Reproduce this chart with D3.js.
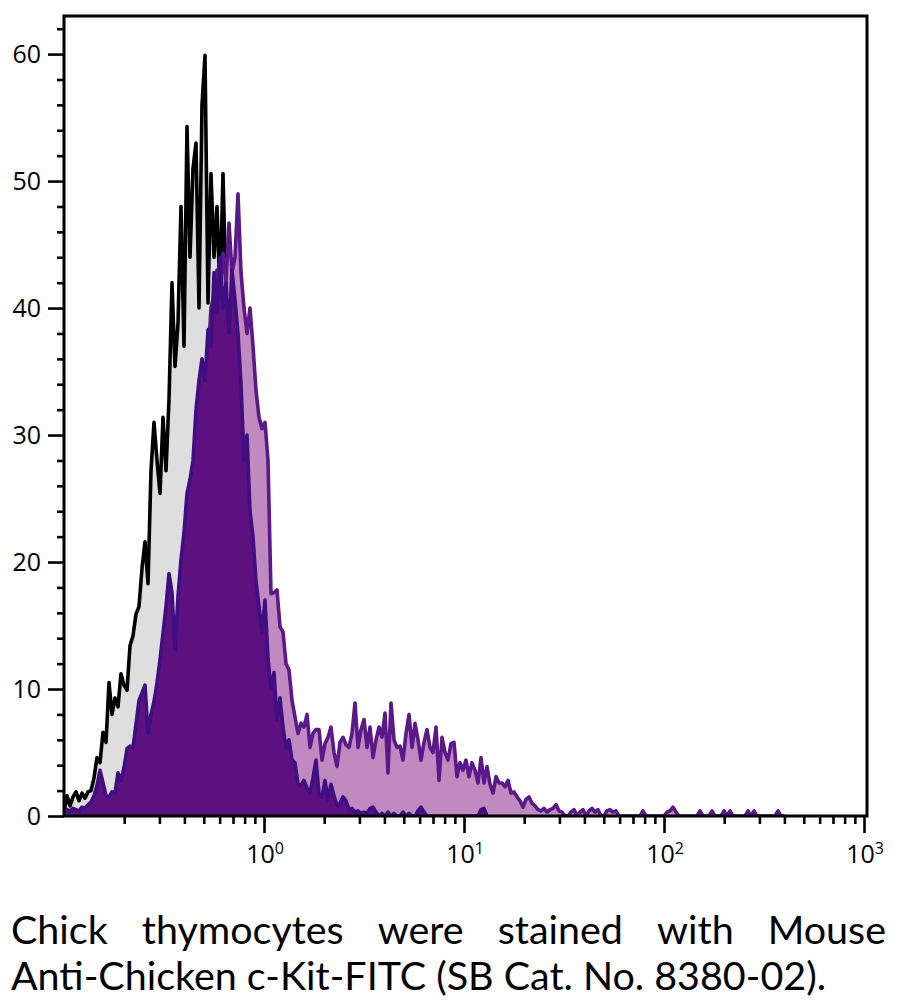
<!DOCTYPE html>
<html><head><meta charset="utf-8">
<script src="https://cdn.jsdelivr.net/npm/d3@7"></script>
<style>html,body{margin:0;padding:0;background:#fff;} svg{display:block;}</style>
</head><body>
<svg id="chart" width="900" height="1006"></svg>
<script>
// ---- data (histogram counts per log channel) ----
const firstChannel = 0.1;            // fluorescence value of channel 0
const channelStepDecades = 0.015;    // width of each channel in decades

// isotype control (grey fill, black outline)
const isotype = [
 0.3,1.6,0.8,1.5,1.9,1.2,1.8,1.4,1.9,2.0,
 3.0,4.6,4.2,6.6,5.8,10.5,8.0,9.3,8.6,11.2,
 10.3,9.9,13.4,14.2,15.9,16.5,19.5,21.6,18.3,27.2,
 31.0,28.0,25.4,31.4,27.2,32.8,42.0,35.4,38.8,48.0,
 37.0,54.3,44.0,51.0,53.0,40.0,56.0,59.9,40.4,50.6,
 44.0,48.0,41.0,50.6,41.0,35.0,31.0,26.0,21.0,17.0,
 13.0,10.0,7.5,5.5,4.0,2.8,1.8,1.0,0.5,0.2,0
];

// dark purple sample
const darkSample = [
 0.3,0.5,0.4,0.6,0.5,0.4,0.7,0.6,0.9,1.1,
 1.6,2.4,3.6,2.6,1.6,1.5,1.9,1.8,3.4,2.8,
 3.8,5.3,5.5,5.4,7.2,9.1,9.7,10.3,6.5,8.0,
 9.0,10.5,12.3,14.4,16.5,19.1,17.6,13.1,17.3,20.2,
 22.3,25.4,26.5,28.0,32.0,34.3,36.0,34.3,38.3,37.0,
 42.8,39.6,44.0,40.0,42.0,38.0,43.0,40.6,38.0,34.0,
 28.0,30.0,24.0,22.0,18.5,16.5,14.4,17.0,12.4,10.0,
 11.3,7.6,9.3,7.0,5.4,6.0,4.4,4.2,2.5,2.4,
 2.8,2.2,1.8,3.0,4.4,1.8,1.5,2.8,1.3,2.5,
 1.6,0.8,1.0,1.5,1.2,0.5,0.6,0.3,0.4,0.2,
 0.3,0.2,0.6,0.7,0.3,0,0.2,0,0.3,0,
 0.2,0,0,0.3,0,0.2,0,0,0.4,0.7,
 0.3,0,0,0,0,0,0,0,0,0,
 0,0,0,0,0,0,0,0,0,0.5,0.6,0
];

// c-Kit-FITC stained sample (light purple fill)
const lightSample = [
 0.2,0.3,0.2,0.4,0.3,0.3,0.5,0.4,0.6,0.8,
 1.2,1.5,2.0,1.8,1.2,1.3,1.5,1.6,2.4,2.3,
 3.0,4.0,4.3,4.6,5.8,6.9,7.5,8.0,6.0,7.0,
 8.0,9.2,10.5,12.0,13.5,15.0,15.5,12.5,15.5,18.0,
 20.0,22.5,24.5,26.0,29.0,31.5,33.0,32.5,36.0,40.0,
 41.0,43.0,41.5,44.3,42.0,46.7,42.8,44.0,49.0,42.8,
 40.0,38.0,40.0,37.0,33.5,31.4,30.5,31.0,28.0,17.5,
 17.6,17.8,14.9,14.5,12.0,11.5,9.1,7.8,6.5,7.3,
 7.0,8.0,5.4,6.5,6.8,6.8,4.4,5.7,6.2,7.0,
 5.0,3.9,5.8,6.2,5.6,5.4,6.5,8.9,5.4,6.8,
 7.6,5.4,7.0,4.6,6.0,7.0,6.2,8.1,3.4,8.9,
 6.0,5.4,5.5,4.4,6.5,8.0,5.4,7.3,6.0,4.4,
 5.8,6.8,5.4,5.0,7.0,2.8,6.2,5.0,4.4,5.7,
 5.8,3.1,4.2,3.6,4.4,3.1,4.2,3.6,2.6,4.6,
 2.6,3.9,2.5,1.8,3.1,2.6,2.6,2.3,2.8,1.8,
 1.9,1.5,1.2,0.7,1.3,1.5,1.0,0.8,0.5,0.4,
 0.6,0.3,0.5,0.6,0.9,0.4,0.3,0,0,0.3,
 0.5,0,0.3,0.5,0,0.4,0.6,0.3,0.5,0,
 0,0.4,0.5,0.3,0.4,0,0,0,0,0,
 0,0,0,0.4,0,0,0,0,0,0,
 0,0.3,0.4,0.7,0.3,0,0,0,0,0,
 0,0,0.4,0,0,0,0.4,0,0,0,
 0.4,0,0.4,0,0,0,0,0,0.4,0,
 0.4,0,0,0,0,0,0,0,0.4,0,0
];

const yMajorTicks = [0,10,20,30,40,50,60];
const yMinorTicks = [2,4,6,8,12,14,16,18,22,24,26,28,32,34,36,38,42,44,46,48,52,54,56,58,62];
const xMajorTicks = [1,10,100,1000];
const xMajorExponents = ["0","1","2","3"];
const xMinorMultipliers = [2,3,4,5,6,7,8,9];
const xMinorDecades = [0.1,1,10,100];
const captionLine1 = ["Chick","thymocytes","were","stained","with","Mouse"];
const captionLine2 = "Anti-Chicken c-Kit-FITC (SB Cat. No. 8380-02).";

// ---- drawing ----
const svg = d3.select("#chart");
const FONT = "'Open Sans', 'Noto Sans', sans-serif";
const CAPFONT = "Lato, 'Open Sans', sans-serif";
const x = d3.scaleLog().domain([0.1, 1000]).range([64, 864]);
const y = d3.scaleLinear().domain([0, 63]).range([816, 16]);

svg.append("defs").append("clipPath").attr("id","plotclip")
  .append("rect").attr("x",64).attr("y",14).attr("width",803).attr("height",802);

const toPoints = arr => arr.map((v,i) => ({x: firstChannel * Math.pow(10, i*channelStepDecades), v}));
const area = d3.area().x(d => x(d.x)).y0(y(0)).y1(d => y(d.v));
const line = d3.line().x(d => x(d.x)).y(d => y(d.v));

const plot = svg.append("g").attr("clip-path","url(#plotclip)");
const series = [
  {data: isotype,     fill: "#dedede", stroke: "#000000"},
  {data: lightSample, fill: "#c08ac0", stroke: "#5a1888"},
  {data: darkSample,  fill: "#5d1080", stroke: "#3f0e80"}
];
series.forEach(s => {
  const pts = toPoints(s.data);
  plot.append("path").attr("d", area(pts)).attr("fill", s.fill).attr("stroke","none");
  plot.append("path").attr("d", line(pts)).attr("fill","none")
    .attr("stroke", s.stroke).attr("stroke-width", 3.6)
    .attr("stroke-linejoin","round").attr("stroke-linecap","round");
});

// axes ticks
const yAxisMajor = d3.axisLeft(y).tickValues(yMajorTicks).tickSize(16).tickPadding(7).tickSizeOuter(0);
const yAxisMinor = d3.axisLeft(y).tickValues(yMinorTicks).tickSize(7).tickFormat("").tickSizeOuter(0);
const xMinorValues = xMinorDecades.flatMap(d => xMinorMultipliers.map(m => m*d));
const xAxisMinor = d3.axisBottom(x).tickValues(xMinorValues).tickSize(8).tickFormat("").tickSizeOuter(0);
const xAxisMajor = d3.axisBottom(x).tickValues(xMajorTicks).tickSize(17).tickFormat("").tickSizeOuter(0);

function styleAxis(g){
  g.select(".domain").remove();
  g.selectAll(".tick line").attr("stroke","#000").attr("stroke-width",2.6);
  g.selectAll(".tick text").attr("font-family",FONT).attr("font-size",25).attr("fill","#000");
}
svg.append("g").attr("transform","translate(64,0)").call(yAxisMinor).call(styleAxis);
svg.append("g").attr("transform","translate(64,0)").call(yAxisMajor).call(styleAxis);
svg.append("g").attr("transform","translate(0,816)").call(xAxisMinor).call(styleAxis);
svg.append("g").attr("transform","translate(0,816)").call(xAxisMajor).call(styleAxis);

// x labels 10^n
xMajorTicks.forEach((t,i) => {
  const tx = svg.append("text").attr("x", x(t)+1).attr("y", 863)
    .attr("text-anchor","middle").attr("font-family",FONT).attr("font-size",25).attr("fill","#000");
  tx.append("tspan").text("10");
  tx.append("tspan").attr("font-size",16).attr("dy",-9).text(xMajorExponents[i]);
});

// frame
svg.append("rect").attr("x",64).attr("y",16).attr("width",803).attr("height",800)
  .attr("fill","none").attr("stroke","#000").attr("stroke-width",3);

// caption
const capSize = 38;
const l2 = svg.append("text").attr("x",11).attr("y",990).attr("font-family",CAPFONT)
  .attr("font-size",capSize).attr("fill","#000").text(captionLine2);
const w2 = l2.node().getComputedTextLength();
const target2 = 815;
const k = target2 / w2;
l2.attr("textLength", target2).attr("lengthAdjust","spacingAndGlyphs");

const wordNodes = captionLine1.map(w => svg.append("text").attr("y",944).attr("font-family",CAPFONT)
  .attr("font-size",capSize).attr("fill","#000").text(w));
const widths = wordNodes.map(n => n.node().getComputedTextLength()*k);
const left1 = 11, right1 = 886;
const gap = (right1 - left1 - d3.sum(widths)) / (captionLine1.length - 1);
let cx = left1;
wordNodes.forEach((n,i) => {
  n.attr("x", cx).attr("textLength", widths[i]).attr("lengthAdjust","spacingAndGlyphs");
  cx += widths[i] + gap;
});
</script>
</body></html>
